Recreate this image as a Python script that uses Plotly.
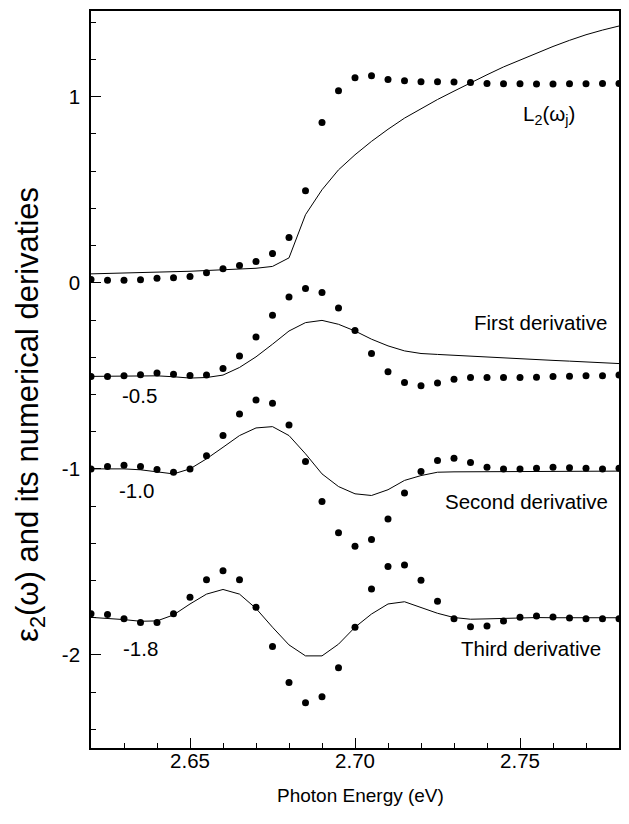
import plotly.graph_objects as go

# Photon energy grid (eV)
energy = [2.620, 2.625, 2.630, 2.635, 2.640, 2.645, 2.650, 2.655, 2.660, 2.665, 2.670,
          2.675, 2.680, 2.685, 2.690, 2.695, 2.700, 2.705, 2.710, 2.715, 2.720, 2.725,
          2.730, 2.735, 2.740, 2.745, 2.750, 2.755, 2.760, 2.765, 2.770, 2.775, 2.780]

# eps2 data (dots) and L2 model (line)
eps2_dots = [0.018, 0.014, 0.013, 0.016, 0.024, 0.027, 0.034, 0.054, 0.075, 0.093, 0.115,
             0.157, 0.243, 0.495, 0.861, 1.032, 1.102, 1.112, 1.093, 1.086, 1.080, 1.080,
             1.079, 1.077, 1.071, 1.070, 1.070, 1.068, 1.068, 1.070, 1.070, 1.071, 1.071]
eps2_line = [0.048, 0.050, 0.052, 0.054, 0.056, 0.059, 0.062, 0.066, 0.070, 0.074, 0.078,
             0.088, 0.134, 0.366, 0.500, 0.607, 0.688, 0.760, 0.825, 0.885, 0.935, 0.985,
             1.030, 1.075, 1.118, 1.160, 1.198, 1.235, 1.270, 1.303, 1.333, 1.358, 1.380]

# First derivative (offset -0.5)
d1_dots = [-0.503, -0.503, -0.500, -0.494, -0.485, -0.491, -0.498, -0.496, -0.461, -0.393, -0.291,
           -0.175, -0.077, -0.030, -0.052, -0.136, -0.257, -0.380, -0.478, -0.536, -0.553, -0.539,
           -0.519, -0.509, -0.509, -0.509, -0.509, -0.507, -0.503, -0.502, -0.500, -0.500, -0.496]
d1_line = [-0.503, -0.503, -0.502, -0.501, -0.500, -0.505, -0.512, -0.509, -0.496, -0.455, -0.398,
           -0.330, -0.259, -0.214, -0.202, -0.223, -0.259, -0.303, -0.339, -0.366, -0.380, -0.385,
           -0.390, -0.394, -0.398, -0.403, -0.408, -0.412, -0.417, -0.421, -0.425, -0.430, -0.434]

# Second derivative (offset -1.0)
d2_dots = [-1.000, -0.987, -0.980, -0.987, -1.003, -1.018, -1.000, -0.930, -0.821, -0.705, -0.630,
           -0.648, -0.764, -0.961, -1.175, -1.343, -1.416, -1.380, -1.269, -1.130, -1.014, -0.955,
           -0.943, -0.966, -0.991, -1.000, -1.000, -0.997, -0.991, -0.994, -0.997, -1.000, -0.997]
d2_line = [-1.000, -1.000, -1.000, -1.005, -1.018, -1.027, -1.000, -0.946, -0.884, -0.821, -0.780,
           -0.773, -0.821, -0.919, -1.027, -1.095, -1.134, -1.143, -1.112, -1.062, -1.036, -1.018,
           -1.016, -1.016, -1.016, -1.016, -1.015, -1.015, -1.014, -1.014, -1.013, -1.013, -1.012]

# Third derivative (offset -1.8)
d3_dots = [-1.778, -1.783, -1.805, -1.826, -1.825, -1.778, -1.690, -1.596, -1.548, -1.596, -1.744,
           -1.955, -2.148, -2.257, -2.224, -2.069, -1.851, -1.646, -1.525, -1.516, -1.598, -1.712,
           -1.805, -1.848, -1.844, -1.817, -1.798, -1.791, -1.796, -1.801, -1.805, -1.805, -1.805]
d3_line = [-1.798, -1.803, -1.810, -1.819, -1.817, -1.785, -1.726, -1.673, -1.648, -1.673, -1.750,
           -1.851, -1.946, -2.005, -2.005, -1.942, -1.851, -1.780, -1.726, -1.714, -1.744, -1.776,
           -1.799, -1.808, -1.806, -1.803, -1.799, -1.799, -1.800, -1.800, -1.800, -1.800, -1.800]

y_tickvals = [1, 0, -1, -2]
y_ticktext = ["1", "0", "-1", "-2"]

# Curve labels: (text, x, y)
labels = [
    ("L<sub>2</sub>(ω<sub>j</sub>)", 2.7588, 0.90),
    ("First derivative", 2.7561, -0.216),
    ("Second derivative", 2.7519, -1.175),
    ("Third derivative", 2.7534, -1.967),
    ("-0.5", 2.6348, -0.607),
    ("-1.0", 2.6339, -1.116),
    ("-1.8", 2.6351, -1.967),
]

FONT = "Liberation Sans, Arial, Helvetica, sans-serif"

fig = go.Figure()
for line in [eps2_line, d1_line, d2_line, d3_line]:
    fig.add_trace(go.Scatter(x=energy, y=line, mode="lines",
                             line=dict(color="black", width=1), showlegend=False,
                             hoverinfo="skip"))
for dots in [eps2_dots, d1_dots, d2_dots, d3_dots]:
    fig.add_trace(go.Scatter(x=energy, y=dots, mode="markers",
                             marker=dict(color="black", size=7), showlegend=False))

for text, x, y in labels:
    fig.add_annotation(x=x, y=y, text=text, showarrow=False,
                       xanchor="center", yanchor="middle",
                       font=dict(family=FONT, size=20.5, color="black"))

# axis titles as annotations
fig.add_annotation(xref="paper", yref="paper", x=0.5095, y=-0.065,
                   text="Photon Energy (eV)", showarrow=False,
                   xanchor="center", yanchor="middle",
                   font=dict(family=FONT, size=19, color="black"))
fig.add_annotation(xref="paper", yref="paper", x=-0.1155, y=0.452,
                   text="ε<sub>2</sub>(ω) and its numerical derivaties", showarrow=False,
                   textangle=-90, xanchor="center", yanchor="middle",
                   font=dict(family=FONT, size=31, color="black"))

fig.update_layout(
    width=621, height=816,
    margin=dict(l=83, r=10, t=1, b=76),
    paper_bgcolor="white", plot_bgcolor="white",
    font=dict(family=FONT, size=20, color="black"),
    xaxis=dict(range=[2.62, 2.78], tickmode="linear", tick0=2.65, dtick=0.05,
               tickformat=".2f", ticks="inside", ticklen=10, tickwidth=1.3,
               tickcolor="black", showline=True, linecolor="black", linewidth=1.6,
               mirror=True, showgrid=False, zeroline=False, ticklabelstandoff=-6,
               tickfont=dict(family=FONT, size=20.5, color="black"),
               minor=dict(tickmode="linear", tick0=2.62, dtick=0.01, ticks="inside",
                          ticklen=5, tickcolor="black", tickwidth=1, showgrid=False)),
    yaxis=dict(range=[-2.5, 1.4606], tickmode="array", tickvals=y_tickvals,
               ticktext=y_ticktext, ticks="inside", ticklen=10, tickwidth=1.3,
               tickcolor="black", showline=True, linecolor="black", linewidth=1.6,
               mirror=True, showgrid=False, zeroline=False, ticklabelstandoff=5,
               tickfont=dict(family=FONT, size=20.5, color="black"),
               minor=dict(tickmode="linear", tick0=0, dtick=0.2, ticks="inside",
                          ticklen=5, tickcolor="black", tickwidth=1, showgrid=False)),
)

fig.write_html("out.html")
